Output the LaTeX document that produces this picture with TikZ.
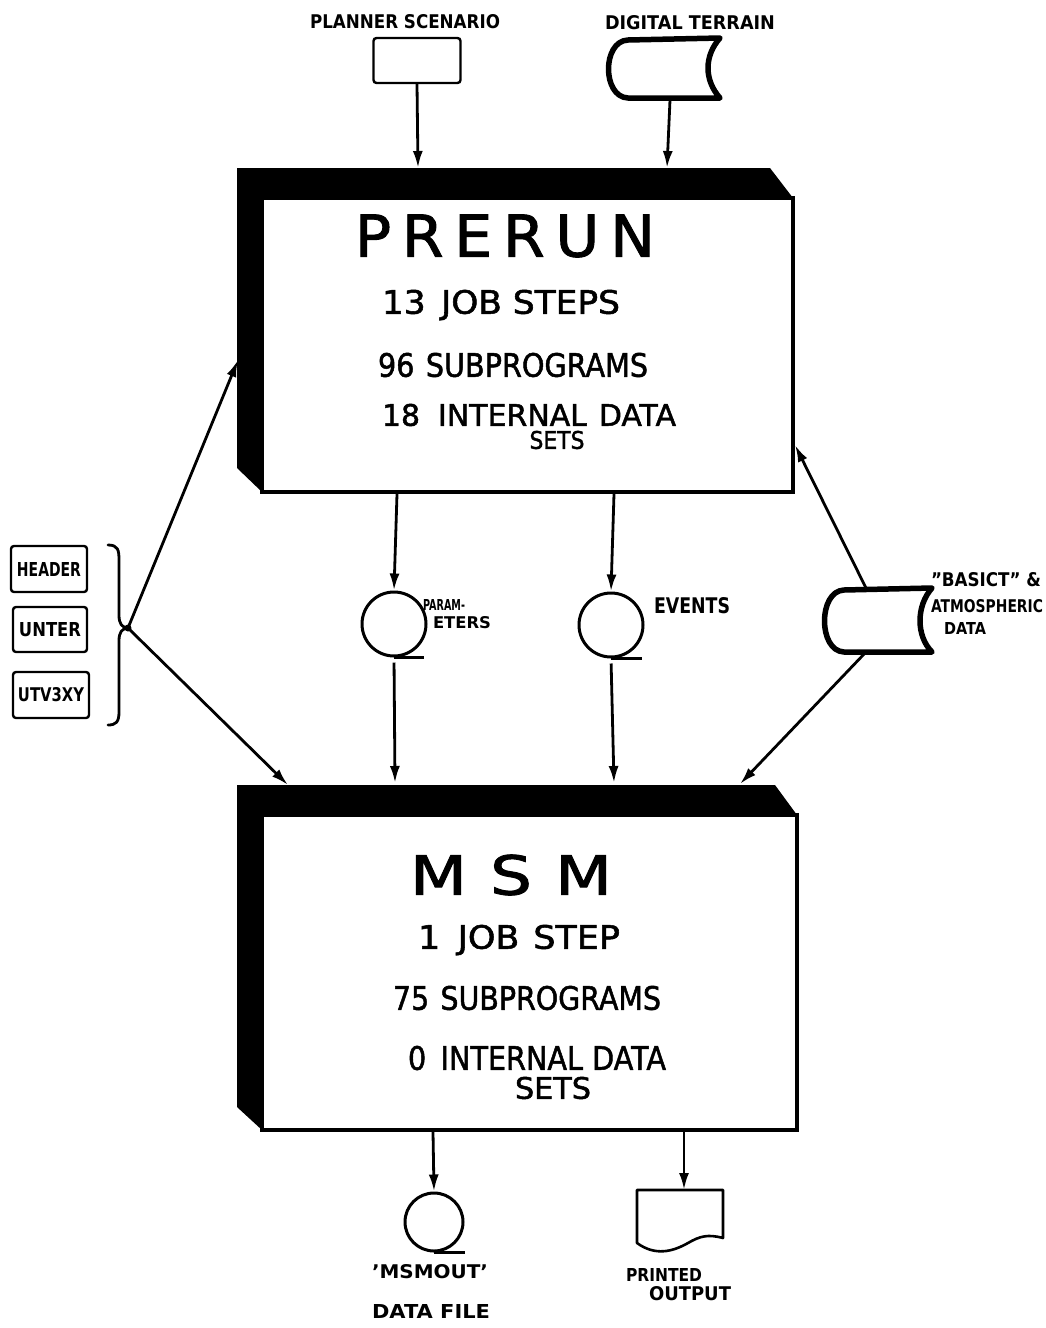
\documentclass[tikz,border=0pt]{standalone}
\usepackage{fontspec}
\setmainfont{DejaVu Sans}
\newfontfamily\boxfont{DejaVu Sans}[FakeBold=1.6]
\usepackage{graphicx}
\usetikzlibrary{arrows.meta}
\newcommand{\fitt}[3]{\resizebox{#1pt}{#2pt}{#3}}
\begin{document}
\begin{tikzpicture}[x=1pt,y=-1pt,
  conn/.style={line width=2.8pt,-{Latex[length=17pt,width=10pt]}},
  link/.style={line width=2.8pt},
  txt/.style={inner sep=0pt,outer sep=0pt,font=\boxfont},
  lbl/.style={inner sep=0pt,outer sep=0pt,font=\bfseries},
  tape/.style={circle,draw,line width=3pt,minimum size=64pt,inner sep=0pt},
  ghost/.style={draw=none,inner sep=0pt,outer sep=0pt,rectangle},
  srcbox/.style={draw,line width=2.4pt,rounded corners=3pt,inner sep=0pt},
  face/.style={draw,fill=white,line width=3.2pt,inner sep=0pt,rectangle},
  drum/.style={line width=5.5pt,line join=round}]
\useasboundingbox (0,0) rectangle (1046,1328);
\fill[white] (0,0) rectangle (1046,1328);

% ---------- PRERUN box ----------
\fill (237,168) -- (770,168) -- (793,198) -- (262,198) -- (262,492) -- (237,468) -- cycle;
\node[face,minimum width=531pt,minimum height=294pt] (prerun) at (527.5,345) {};
\node[txt] (prTitle) at (505,236) {\fitt{300}{42}{P\kern0.18em R\kern0.18em E\kern0.18em R\kern0.18em U\kern0.18em N}};
\node[txt] (pr1) at (501,305) {\fitt{238}{24}{13\hspace{0.45em}JOB STEPS}};
\node[txt] (pr2) at (513,365) {\fitt{270}{24}{96\hspace{0.4em}SUBPROGRAMS}};
\node[txt] (pr3) at (529,415) {\fitt{294}{22}{18\hspace{0.6em}INTERNAL\hspace{0.4em}DATA}};
\node[txt] (pr4) at (557,440) {\fitt{55}{18}{SETS}};

% ---------- MSM box ----------
\fill (237,785) -- (775,785) -- (797,815) -- (262,815) -- (262,1130) -- (237,1107) -- cycle;
\node[face,minimum width=535pt,minimum height=315pt] (msm) at (529.5,972.5) {};
\node[txt] (msTitle) at (511,875) {\fitt{202}{40}{M\kern0.35em S\kern0.35em M}};
\node[txt] (ms1) at (519,940) {\fitt{202}{24}{1\hspace{0.5em}JOB\hspace{0.4em}STEP}};
\node[txt] (ms2) at (527,998) {\fitt{268}{24}{75\hspace{0.4em}SUBPROGRAMS}};
\node[txt] (ms3) at (537,1058) {\fitt{258}{24}{0\hspace{0.5em}INTERNAL DATA}};
\node[txt] (ms4) at (553,1088) {\fitt{76}{22}{SETS}};

% ---------- connection points on the boxes ----------
\coordinate (prT1) at (418,168);
\coordinate (prT2) at (667,168);
\coordinate (prL) at (238,360);
\coordinate (prR) at (795,445);
\coordinate (prB1) at (397,494);
\coordinate (prB2) at (614,494);
\coordinate (msT0) at (288,785);
\coordinate (msT1) at (395,783);
\coordinate (msT2) at (614,783);
\coordinate (msT3) at (740,784);
\coordinate (msB1) at (433,1132);
\coordinate (msB2) at (684,1132);

% ---------- inputs at the top ----------
\node[lbl] (planLbl) at (405,22) {\fitt{190}{14}{PLANNER SCENARIO}};
\node[srcbox,minimum width=87pt,minimum height=45pt] (plan) at (417,60.5) {};
\node[lbl] (terrLbl) at (690,23) {\fitt{170}{14}{DIGITAL TERRAIN}};
\draw[drum] (628,40) -- (720,38) .. controls (704,56) and (704,80) .. (720,98) -- (628,98) .. controls (602,97) and (602,41) .. cycle;
\node[ghost,minimum width=104pt,minimum height=62pt] (terrain) at (670,69) {};
\draw[conn] (plan.south) -- (prT1);
\draw[conn] (terrain.south) -- (prT2);

% ---------- tapes between the boxes ----------
\node[tape] (param) at (394,624) {};
\draw[link] (param.south) -- ++(30,0);
\node[lbl] (paramLbl1) at (444,605) {\fitt{42}{11}{PARAM-}};
\node[lbl] (paramLbl2) at (462,623) {\fitt{58}{12}{ETERS}};
\node[tape] (events) at (611,625) {};
\draw[link] (events.south) -- ++(31,0);
\node[lbl] (eventsLbl) at (692,606) {\fitt{76}{16}{EVENTS}};
\draw[conn] (prB1) -- (param.north);
\draw[conn] (prB2) -- (events.north);
\draw[conn,shorten <=5pt] (param.south) -- (msT1);
\draw[conn,shorten <=5pt] (events.south) -- (msT2);

% ---------- BASICT drum ----------
\draw[drum] (844,590) -- (932,588) .. controls (916,606) and (916,636) .. (932,652) -- (844,652) .. controls (818,651) and (818,591) .. cycle;
\node[ghost,minimum width=110pt,minimum height=64pt] (basict) at (866,620) {};
\node[lbl] (basLbl1) at (986,580) {\fitt{110}{14}{"BASICT" \&}};
\node[lbl] (basLbl2) at (987,606) {\fitt{112}{13}{ATMOSPHERIC}};
\node[lbl] (basLbl3) at (965,628) {\fitt{42}{12}{DATA}};
\draw[conn] (basict.north) -- (prR);
\draw[conn] (basict.south) -- (msT3);

% ---------- left side files ----------
\node[srcbox,minimum width=76pt,minimum height=46pt] (header) at (49,569) {\fitt{64}{14}{\bfseries HEADER}};
\node[srcbox,minimum width=74pt,minimum height=45pt] (unter) at (50,629.5) {\fitt{62}{14}{\bfseries UNTER}};
\node[srcbox,minimum width=76pt,minimum height=46pt] (utv) at (51,695) {\fitt{66}{14}{\bfseries UTV3XY}};
\draw[link,line cap=round] (108,545) .. controls (118,545) and (119,550) .. (119,560) -- (119,615) .. controls (119,624) and (122,627) .. (127,628) .. controls (122,629) and (119,632) .. (119,641) -- (119,712) .. controls (119,722) and (116,725) .. (108,725);
\coordinate (brace) at (128,628);
\fill (brace) circle (3.5pt);
\draw[conn] (brace) -- (prL);
\draw[conn] (brace) -- (msT0);

% ---------- outputs ----------
\node[tape,minimum size=58pt] (msmout) at (434,1222) {};
\draw[link] (msmout.south) -- ++(31,0);
\draw[conn] (msB1) -- (msmout.north);
\node[lbl] (outLbl1) at (430,1272) {\fitt{116}{14}{'MSMOUT'}};
\node[lbl] (outLbl2) at (431,1311) {\fitt{118}{14}{DATA FILE}};
\draw[line width=2.6pt,line join=round] (637,1190) -- (723,1190) -- (723,1238) .. controls (708,1234) and (700,1236) .. (688,1243) .. controls (672,1252) and (655,1256) .. (637,1243) -- cycle;
\node[ghost,minimum width=86pt,minimum height=50pt] (printed) at (684,1215) {};
\draw[conn] (msB2) -- (printed.north);
\node[lbl] (prtLbl1) at (664,1275) {\fitt{76}{13}{PRINTED}};
\node[lbl] (prtLbl2) at (690,1294) {\fitt{82}{14}{OUTPUT}};
\end{tikzpicture}
\end{document}
